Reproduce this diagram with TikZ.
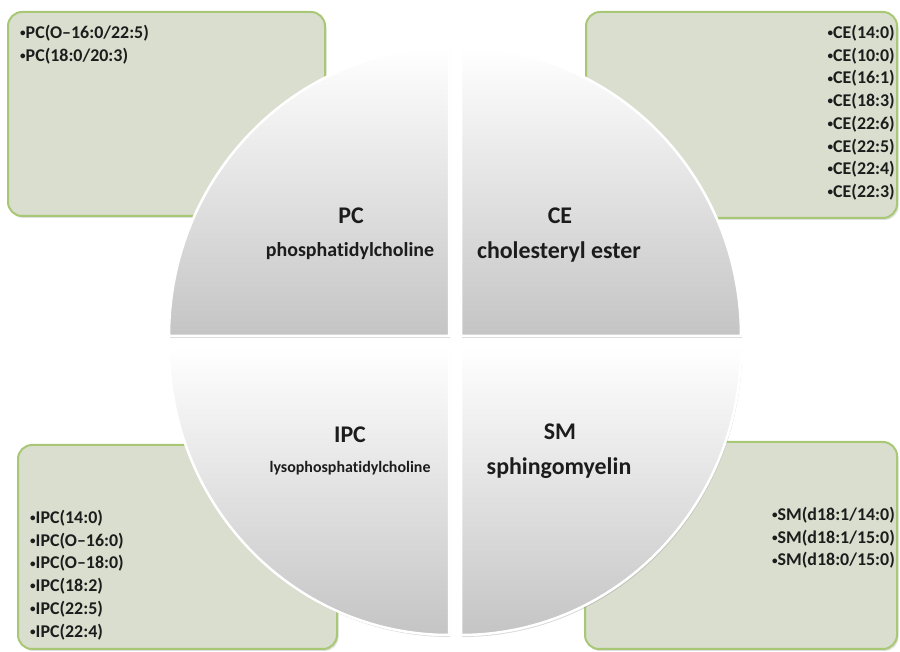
\documentclass[tikz,border=0pt]{standalone}
\usepackage{fontspec}
\setmainfont{Carlito}[Ligatures={TeX,NoCommon}]
\usetikzlibrary{positioning, shadows}
\definecolor{boxfill}{RGB}{217,222,206}
\definecolor{boxline}{RGB}{168,200,118}
\definecolor{labeltext}{RGB}{28,28,28}
\newcommand\dotmark{\raisebox{0.1em}{\scalebox{0.62}{•}}}

\begin{document}
\begin{tikzpicture}[x=1bp, y=1bp,
    listbox/.style={draw=boxline, fill=boxfill, line width=2bp, rounded corners=14bp,
        drop shadow={opacity=0.25, shadow xshift=1.5bp, shadow yshift=-2bp}},
    quarter/.style={draw=white, line width=2.5bp, top color=white, bottom color=black!23,
        drop shadow={opacity=0.3, shadow xshift=1bp, shadow yshift=-2bp}},
    biglabel/.style={font=\fontsize{24}{28}\selectfont\bfseries, text=labeltext, anchor=base, inner sep=0pt},
    items/.style={font=\fontsize{18}{22.8}\selectfont\bfseries, text=labeltext, inner sep=0pt}]
    \useasboundingbox (0,0) rectangle (900,652);
    \def\rx{280}
    \def\ry{288}

    \draw[listbox] (8,436) rectangle (325,640);
    \draw[listbox] (586,434) rectangle (897,640);
    \draw[listbox] (18,3) rectangle (337,207);
    \draw[listbox] (585,3) rectangle (897,210);

    \draw[quarter] (449,316) -- (449,316+\ry) arc[start angle=90, end angle=180, x radius=\rx, y radius=\ry] -- cycle;
    \draw[quarter] (461,316) -- (461+\rx,316) arc[start angle=0, end angle=90, x radius=\rx, y radius=\ry] -- cycle;
    \draw[quarter] (449,305) -- (449-\rx,305) arc[start angle=180, end angle=270, x radius=\rx, y radius=\ry] -- cycle;
    \draw[quarter] (461,305) -- (461,305-\ry) arc[start angle=270, end angle=360, x radius=\rx, y radius=\ry] -- cycle;

    \node[biglabel] (pc) at (351,428) {PC};
    \node[biglabel, font=\fontsize{20}{24}\selectfont\bfseries] (pcname) at (350,395) {phosphatidylcholine};
    \node[biglabel] (ce) at (560,428) {CE};
    \node[biglabel] (cename) at (559,393) {cholesteryl ester};
    \node[biglabel] (lpc) at (350,209) {IPC};
    \node[biglabel, font=\fontsize{16}{19}\selectfont\bfseries] (lpcname) at (350,179) {lysophosphatidylcholine};
    \node[biglabel] (sm) at (560,212) {SM};
    \node[biglabel] (smname) at (559,177) {sphingomyelin};

    \node[items, anchor=north west, align=left] (pclist) at (20,627)
        {\dotmark PC(O--16:0/22:5)\\ \dotmark PC(18:0/20:3)};
    \node[items, anchor=north east, align=right] (celist) at (895,627)
        {\dotmark CE(14:0)\\ \dotmark CE(10:0)\\ \dotmark CE(16:1)\\ \dotmark CE(18:3)\\
         \dotmark CE(22:6)\\ \dotmark CE(22:5)\\ \dotmark CE(22:4)\\ \dotmark CE(22:3)};
    \node[items, anchor=north west, align=left] (lpclist) at (30,142)
        {\dotmark IPC(14:0)\\ \dotmark IPC(O--16:0)\\ \dotmark IPC(O--18:0)\\ \dotmark IPC(18:2)\\
         \dotmark IPC(22:5)\\ \dotmark IPC(22:4)};
    \node[items, anchor=north east, align=right] (smlist) at (895,145)
        {\dotmark SM(d18:1/14:0)\\ \dotmark SM(d18:1/15:0)\\ \dotmark SM(d18:0/15:0)};
\end{tikzpicture}
\end{document}
